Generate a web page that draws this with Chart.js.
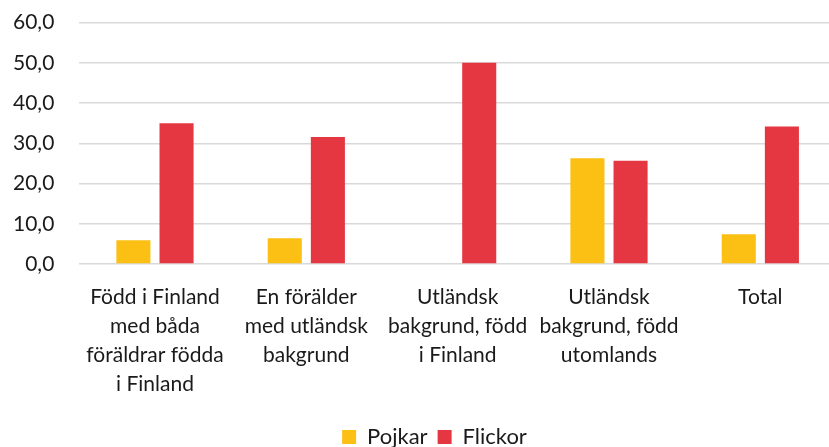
<!DOCTYPE html>
<html>
<head>
<meta charset="utf-8">
<script src="https://cdn.jsdelivr.net/npm/chart.js@4"></script>
<style>
    html, body { margin: 0; padding: 0; background: #fff; overflow: hidden; }
    #wrap { width: 836px; height: 447px; }
</style>
</head>
<body>
<div id="wrap"><canvas id="genderChart"></canvas></div>
<script>
const categories = [
    ['Född i Finland', 'med båda', 'föräldrar födda', 'i Finland'],
    ['En förälder', 'med utländsk', 'bakgrund'],
    ['Utländsk', 'bakgrund, född', 'i Finland'],
    ['Utländsk', 'bakgrund, född', 'utomlands'],
    ['Total']
];
const pojkar = [5.9, 6.4, null, 26.3, 7.4];
const flickor = [35.0, 31.6, 50.0, 25.7, 34.2];
const yTicks = [0, 10, 20, 30, 40, 50, 60];

// legend sits a bit right of centre in the original
const legendShift = {
    id: 'legendShift',
    afterLayout(chart) {
        chart.legend.left += 15;
        chart.legend.right += 15;
    }
};

document.addEventListener("DOMContentLoaded", function () {
    const ctx = document.getElementById('genderChart').getContext('2d');
    Chart.defaults.font.family = 'Lato, "Open Sans", sans-serif';
    Chart.defaults.color = '#1a1a1a';

    new Chart(ctx, {
        type: 'bar',
        data: {
            labels: categories,
            datasets: [
                {
                    label: 'Pojkar',
                    data: pojkar,
                    backgroundColor: '#fbc013',
                },
                {
                    label: 'Flickor',
                    data: flickor,
                    backgroundColor: '#e53741',
                },
            ],
        },
        plugins: [legendShift],
        options: {
            responsive: true,
            maintainAspectRatio: false,
            animation: false,
            categoryPercentage: 0.57,
            barPercentage: 0.79,
            layout: {
                padding: { top: 0, right: 0, left: 3, bottom: -11 }
            },
            plugins: {
                tooltip: { enabled: false },
                legend: {
                    position: 'bottom',
                    labels: {
                        boxWidth: 14,
                        boxHeight: 14,
                        padding: 10,
                        font: { size: 22 }
                    }
                }
            },
            scales: {
                x: {
                    grid: { display: false },
                    border: { display: false },
                    afterFit: scale => { scale.height += 6; },
                    ticks: {
                        autoSkip: false,
                        maxRotation: 0,
                        padding: 11,
                        font: { size: 21, lineHeight: 1.38 }
                    }
                },
                y: {
                    min: 0,
                    max: 60,
                    afterBuildTicks: axis => {
                        axis.ticks = yTicks.map(v => ({ value: v }));
                    },
                    // invisible tick marks give the gap between labels and plot
                    grid: { color: '#d9d9d9', lineWidth: 1.5, drawTicks: true, tickLength: 15, tickColor: 'rgba(0,0,0,0)' },
                    border: { display: false },
                    ticks: {
                        padding: 10,
                        font: { size: 21 },
                        callback: value => value.toFixed(1).replace('.', ',')
                    }
                }
            }
        }
    });
});
</script>
</body>
</html>
